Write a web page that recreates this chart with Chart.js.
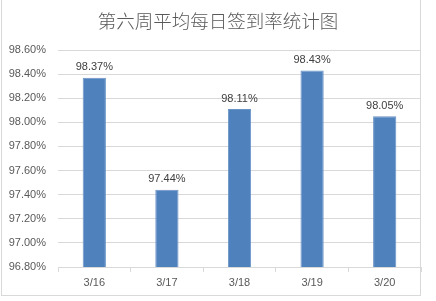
<!DOCTYPE html>
<html>
<head>
<meta charset="utf-8">
<script src="https://cdn.jsdelivr.net/npm/chart.js@4/dist/chart.umd.min.js"></script>
<style>
    body { margin: 0; background: #fff; }
    #wrap { position: relative; width: 436px; height: 301px; }
    #frame { position: absolute; left: 1px; top: -2px; width: 420px; height: 298px; border: 1px solid #d9d9d9; box-sizing: border-box; }
    canvas { position: absolute; left: 0; top: 0; }
</style>
</head>
<body>
<div id="wrap">
    <div id="frame"></div>
    <canvas id="chart" width="436" height="301"></canvas>
</div>
<script>
var titleText = '第六周平均每日签到率统计图';
var days = ['3/16', '3/17', '3/18', '3/19', '3/20'];
var rates = [98.37, 97.44, 98.11, 98.43, 98.05];
var yMin = 96.8;
var yMax = 98.6;
var yStep = 0.2;

var labelFont = '11px "Liberation Sans", sans-serif';

// chart title, drawn a bit right of the canvas centre like the excel original
var titlePlugin = {
    id: 'excelTitle',
    afterDraw: function(chart) {
        var ctx = chart.ctx;
        ctx.save();
        ctx.font = '300 18.5px "Noto Sans CJK SC", sans-serif';
        ctx.fillStyle = '#595959';
        ctx.textAlign = 'center';
        ctx.textBaseline = 'middle';
        ctx.fillText(titleText, 218, 21);
        ctx.restore();
    }
};

// value labels above each bar
var valueLabels = {
    id: 'valueLabels',
    afterDatasetsDraw: function(chart) {
        var ctx = chart.ctx;
        var meta = chart.getDatasetMeta(0);
        ctx.save();
        ctx.font = labelFont;
        ctx.fillStyle = '#404040';
        ctx.textAlign = 'center';
        ctx.textBaseline = 'bottom';
        meta.data.forEach(function(bar, i) {
            ctx.fillText(rates[i].toFixed(2) + '%', bar.x, bar.y - 5);
        });
        ctx.restore();
    }
};

var ctx = document.getElementById('chart').getContext('2d');
var chart = new Chart(ctx, {
    type: 'bar',
    data: {
        labels: days,
        datasets: [{
            data: rates,
            backgroundColor: '#4f81bd',
            borderColor: '#6a94c6',
            borderWidth: 1,
            barPercentage: 0.32,
            categoryPercentage: 1
        }]
    },
    options: {
        responsive: false,
        animation: false,
        layout: { padding: { left: 0, right: 15, top: 50, bottom: 0 } },
        plugins: {
            legend: { display: false },
            tooltip: { enabled: false },
            title: { display: false }
        },
        scales: {
            x: {
                grid: { display: true, drawOnChartArea: false, drawTicks: true, tickLength: 5, color: '#d9d9d9' },
                border: { display: true, color: '#d9d9d9' },
                ticks: { color: '#595959', font: { family: '"Liberation Sans", sans-serif', size: 11 }, padding: 4 },
                afterFit: function(scale) { scale.height = 34; }
            },
            y: {
                min: yMin,
                max: yMax,
                grid: { color: '#d9d9d9', drawTicks: false },
                border: { display: false },
                ticks: {
                    stepSize: yStep,
                    color: '#595959',
                    font: { family: '"Liberation Sans", sans-serif', size: 11 },
                    padding: 12,
                    callback: function(v) { return v.toFixed(2) + '%'; }
                },
                afterFit: function(scale) { scale.width = 58; }
            }
        }
    },
    plugins: [valueLabels, titlePlugin]
});
</script>
</body>
</html>
